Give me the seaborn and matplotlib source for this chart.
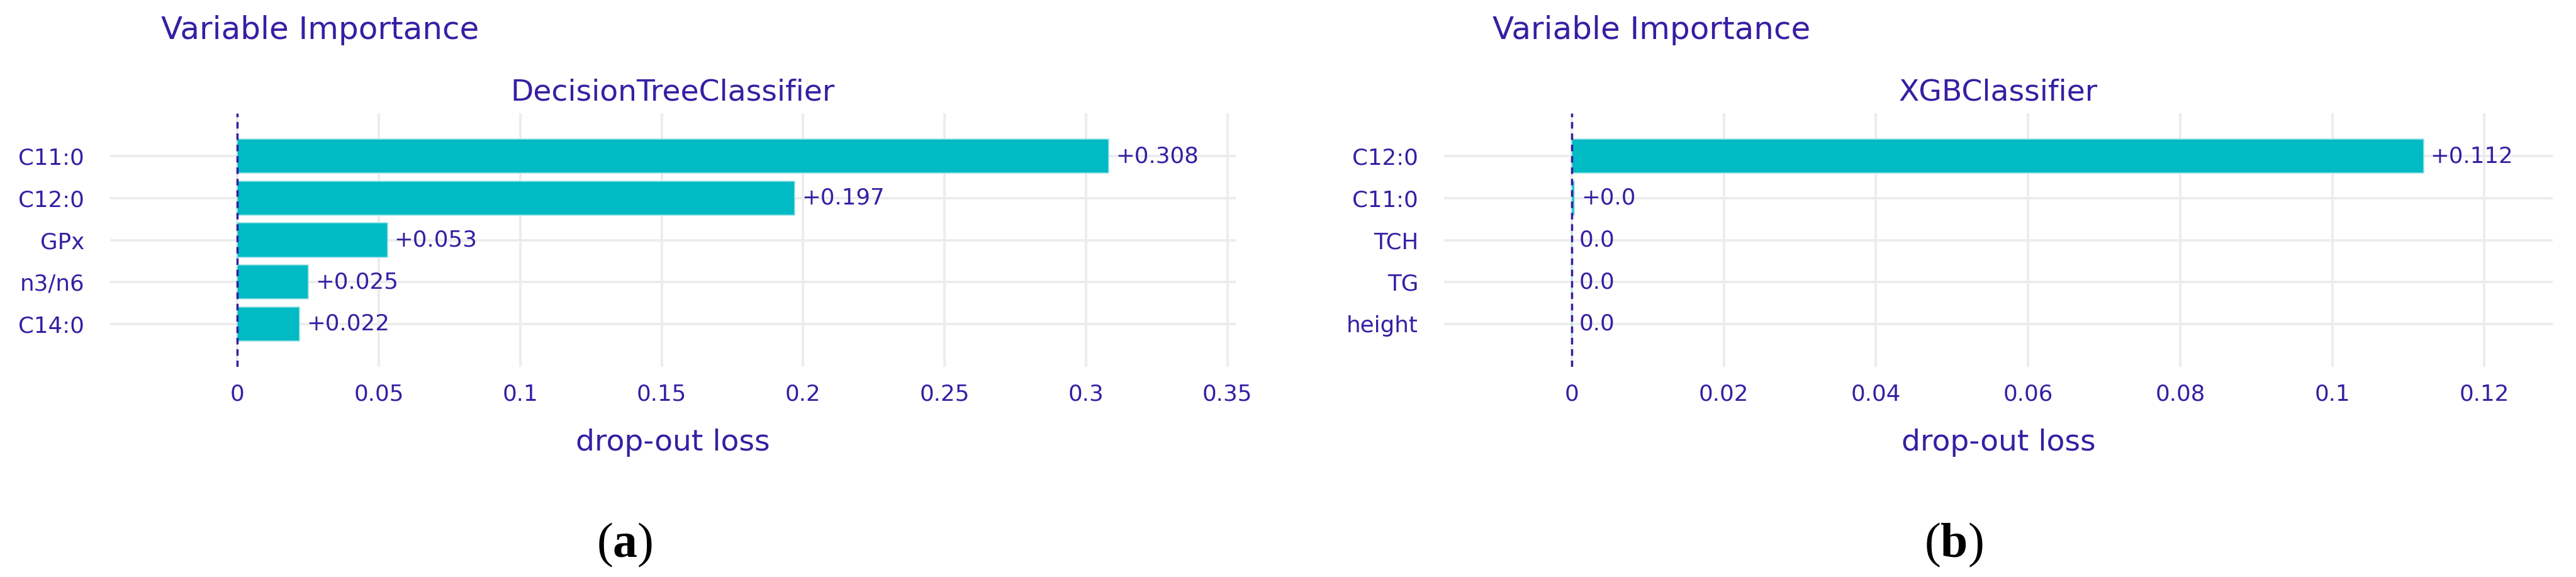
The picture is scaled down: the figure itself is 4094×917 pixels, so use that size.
import pandas as pd
import seaborn as sns
import numpy as np
import matplotlib
matplotlib.use("Agg")
import matplotlib.pyplot as plt

# data
dt_vars = ["C11:0", "C12:0", "GPx", "n3/n6", "C14:0"]
dt_loss = [0.308, 0.197, 0.053, 0.025, 0.022]

xgb_vars = ["C12:0", "C11:0", "TCH", "TG", "height"]
xgb_loss = [0.112, 0.0003, 0.0, 0.0, 0.0]

dt_ticks = [0, 0.05, 0.1, 0.15, 0.2, 0.25, 0.3, 0.35]
xgb_ticks = [0, 0.02, 0.04, 0.06, 0.08, 0.1, 0.12]

purple = "#371ea3"
bar_col = "#00bac4"
grid_col = "#ececec"

sns.set_style("white")
plt.rcParams['font.family'] = ['DejaVu Sans']
plt.rcParams['mathtext.fontset'] = 'custom'
plt.rcParams['mathtext.bf'] = 'Liberation Serif:bold'
plt.rcParams['mathtext.rm'] = 'Liberation Serif'

W, H = 4094, 917
fig = plt.figure(figsize=(W / 100, H / 100), dpi=100)


def fx(px):
    return px / W


def fy(py):
    return 1 - py / H


def lab(v):
    if v > 0:
        return "+" + str(round(v, 3))
    return str(round(float(v), 3))


def panel(left_px, right_px, names, vals, ticks, xlim, model, title_x, letter_x, letter):
    ax = fig.add_axes([fx(left_px), fy(583), fx(right_px - left_px), (583 - 180) / H])
    df = pd.DataFrame({"variable": names, "loss": vals})
    sns.barplot(data=df, x="loss", y="variable", orient="h", color=bar_col,
                width=0.81, saturation=1, edgecolor="#9ee3e6", linewidth=1.2,
                ax=ax, zorder=3)
    ax.set_xlim(*xlim)
    ax.set_ylim(len(names) - 1 + 1.02, -1.02)
    ax.set_xticks(ticks)
    ax.set_xticklabels([f"{t:g}" for t in ticks])
    ax.set_yticks(range(len(names)))
    ax.set_yticklabels(names)
    ax.tick_params(axis="x", length=0, pad=19, labelsize=25.7, colors=purple)
    ax.tick_params(axis="y", length=0, pad=29.5, labelsize=25.7, colors=purple)
    ax.grid(True, color=grid_col, linewidth=2.8, zorder=0)
    ax.set_axisbelow(True)
    for s in ax.spines.values():
        s.set_visible(False)
    ax.axvline(0, color=purple, linewidth=2.5, linestyle=(0, (3.0, 2.2)), zorder=4)
    for i, v in enumerate(vals):
        ax.annotate(lab(v), xy=(v, i), xytext=(8, 0), textcoords="offset points",
                    va="center", ha="left", fontsize=25.7, color=purple, zorder=5)
    ax.set_xlabel("drop-out loss", fontsize=34, color=purple, labelpad=27)
    ax.set_ylabel("")
    mid = (left_px + right_px) / 2
    fig.text(fx(mid), fy(160), model, ha="center", va="baseline",
             fontsize=34, color=purple)
    fig.text(fx(title_x), fy(62), "Variable Importance", ha="left",
             va="baseline", fontsize=36, color=purple)
    fig.text(fx(letter_x), fy(866), "(" + r"$\mathbf{" + letter + "}$" + ")",
             ha="center", va="center", fontsize=56, color="black",
             family="Liberation Serif")
    return ax


panel(175, 1964, dt_vars, dt_loss, dt_ticks, (-0.045, 0.353),
      "DecisionTreeClassifier", 256, 993, "a")
panel(2295, 4057, xgb_vars, xgb_loss, xgb_ticks, (-0.0168, 0.129),
      "XGBClassifier", 2372, 3105, "b")

fig.savefig("out.png", dpi=100, facecolor="white")
